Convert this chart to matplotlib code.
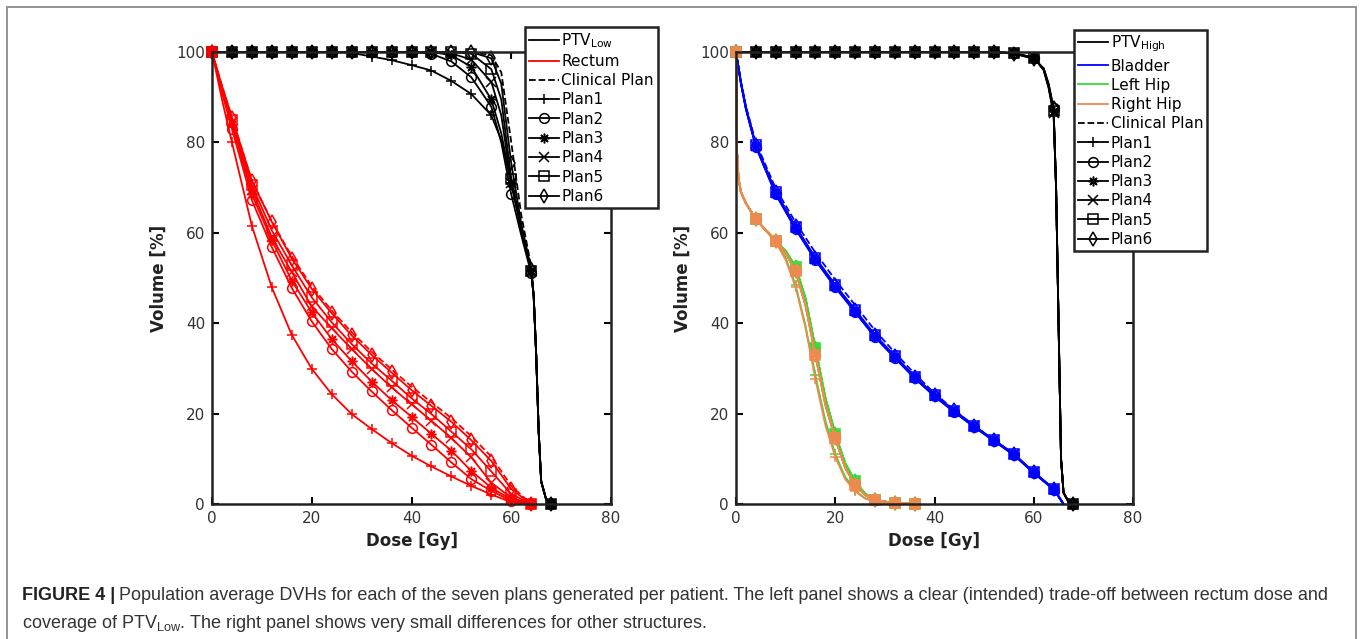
import numpy as np
import matplotlib
matplotlib.use("Agg")
import matplotlib.pyplot as plt
from matplotlib.lines import Line2D
from matplotlib.patches import Rectangle

plt.rcParams['font.family'] = ['DejaVu Sans']
plt.rcParams['mathtext.fontset'] = 'dejavusans'

# ---------------- data (left panel) ----------------
ptv_low_dose = [0, 4, 8, 12, 16, 20, 24, 28, 32, 36, 40, 44, 48, 52, 56, 58, 60, 62,
                64, 64.5, 65, 65.5, 66, 67, 68]
ptv_low_tail = [46, 33, 16, 5, 1, 0]
ptv_low_plan1 = [100, 100, 100, 100, 100, 100, 100, 99.8, 99.0, 98.2, 97.1, 95.9, 93.6,
                 90.7, 86.0, 80.5, 71.0, 61.0, 51.5] + ptv_low_tail
ptv_low_plan2 = [100] * 11 + [99.6, 97.9, 94.4, 87.9, 80.0, 68.5, 59.5, 51.0] + ptv_low_tail
ptv_low_plan3 = [100] * 12 + [99.3, 96.7, 89.5, 82.0, 71.0, 61.0, 51.5] + ptv_low_tail
ptv_low_plan4 = [100] * 12 + [99.7, 98.3, 93.4, 86.0, 71.0, 61.0, 51.5] + ptv_low_tail
ptv_low_plan5 = [100] * 13 + [99.6, 96.2, 89.5, 72.0, 61.5, 51.5] + ptv_low_tail
ptv_low_plan6 = [100] * 14 + [98.6, 93.0, 75.4, 62.0, 52.0] + ptv_low_tail
ptv_low_clin = [100] * 14 + [99.3, 95.5, 80.0, 64.0, 52.5] + ptv_low_tail

rectum_dose = [0, 2, 4, 8, 12, 16, 20, 24, 28, 32, 36, 40, 44, 48, 52, 56, 60, 64]
rectum_plan1 = [100, 89.5, 80, 61.5, 47.9, 37.4, 29.9, 24.3, 19.9, 16.6, 13.5, 10.7, 8.3, 6.1, 4.0, 2.1, 0.4, 0]
rectum_plan2 = [100, 91, 83, 67.2, 56.8, 47.8, 40.4, 34.3, 29.3, 24.9, 20.8, 16.9, 13.1, 9.2, 5.5, 2.9, 0.7, 0]
rectum_plan3 = [100, 91.5, 84, 68.5, 58.3, 49.4, 42.4, 36.5, 31.6, 27.1, 23.0, 19.3, 15.5, 11.8, 7.3, 3.6, 1.0, 0]
rectum_plan4 = [100, 92, 84.5, 69.5, 59.0, 51.3, 43.7, 38.9, 34.3, 29.9, 25.8, 22.1, 18.4, 14.6, 10.3, 4.7, 1.4, 0]
rectum_plan5 = [100, 92, 85, 70.5, 60.5, 52.8, 45.7, 40.2, 35.4, 31.1, 27.3, 23.4, 19.9, 16.0, 12.1, 7.2, 2.2, 0]
rectum_plan6 = [100, 92.5, 85.5, 71.5, 62.4, 54.3, 47.6, 42.2, 37.3, 33.0, 29.1, 25.2, 21.7, 18.2, 14.1, 9.5, 3.3, 0]
rectum_clin = [100, 92.5, 85.5, 71.5, 62.5, 54.8, 48.2, 42.8, 38.0, 33.7, 29.8, 26.0, 22.5, 19.0, 15.0, 10.5, 4.0, 0]

# ---------------- data (right panel) ----------------
ptv_high_dose = [0, 4, 8, 12, 16, 20, 24, 28, 32, 36, 40, 44, 48, 52, 56, 60, 62, 63,
                 64, 64.5, 65, 65.5, 66, 67, 68]
ptv_high_tail = [70, 40, 10, 2.5, 0.5, 0]
ptv_high_plans = [
    [100] * 14 + [99.7, 98.8, 96.0, 92.0, 86.0] + ptv_high_tail,
    [100] * 14 + [99.7, 98.6, 96.3, 92.8, 87.5] + ptv_high_tail,
    [100] * 14 + [99.7, 98.7, 96.2, 92.5, 87.0] + ptv_high_tail,
    [100] * 14 + [99.7, 98.8, 96.0, 92.2, 86.5] + ptv_high_tail,
    [100] * 14 + [99.7, 98.7, 96.2, 92.5, 87.0] + ptv_high_tail,
    [100] * 14 + [99.6, 98.5, 96.4, 93.0, 87.5] + ptv_high_tail,
]
ptv_high_clin = [100] * 14 + [99.7, 98.7, 96.2, 92.5, 87.0] + ptv_high_tail

bladder_dose = [0, 1, 2, 4, 8, 12, 16, 20, 24, 28, 32, 36, 40, 44, 48, 52, 56, 60, 64, 66]
bladder_plans = [
    [100, 93, 87.5, 79.2, 68.7, 61.0, 54.1, 48.1, 42.6, 37.0, 32.4, 27.9, 23.9, 20.4, 17.1, 14.0, 10.9, 6.9, 3.3, 0],
    [100, 93, 87.3, 79.0, 68.5, 60.8, 53.9, 47.9, 42.4, 36.9, 32.3, 27.8, 23.8, 20.3, 17.0, 13.9, 10.8, 6.8, 3.2, 0],
    [100, 93, 87.4, 79.1, 68.6, 60.9, 54.0, 48.0, 42.5, 37.0, 32.4, 27.9, 23.9, 20.4, 17.1, 14.0, 10.9, 6.9, 3.3, 0],
    [100, 93.2, 87.6, 79.3, 68.9, 61.2, 54.3, 48.3, 42.8, 37.2, 32.6, 28.0, 24.0, 20.5, 17.2, 14.1, 11.0, 7.0, 3.4, 0],
    [100, 93.2, 87.7, 79.4, 69.0, 61.3, 54.4, 48.4, 42.9, 37.3, 32.7, 28.1, 24.1, 20.6, 17.2, 14.1, 11.0, 7.0, 3.4, 0],
    [100, 93.3, 87.8, 79.5, 69.1, 61.4, 54.5, 48.5, 43.0, 37.4, 32.8, 28.2, 24.2, 20.7, 17.3, 14.2, 11.1, 7.1, 3.4, 0],
]
bladder_clin = [100, 93.5, 88.0, 80.0, 69.8, 62.3, 55.6, 49.6, 44.0, 38.4, 33.5, 28.8, 24.5, 20.8, 17.3, 14.1, 11.0, 7.0, 3.2, 0]

hip_dose = [0, 0.2, 0.5, 1, 2, 4, 8, 10, 12, 14, 16, 18, 20, 22, 24, 26, 28, 32, 36]
left_hip_plan1 = [100, 78, 72, 69, 66.5, 63, 58.0, 54.5, 48.5, 39.5, 28.5, 18.5, 11.0, 6.0, 3.0, 1.3, 0.5, 0.1, 0]
left_hip_other = [100, 78, 72, 69, 66.5, 63, 58.2, 56.0, 52.5, 45.5, 34.5, 23.5, 15.5, 9.0, 5.0, 2.3, 0.9, 0.2, 0.1]
right_hip_plan1 = [100, 78, 72, 69, 66.5, 63, 58.0, 54.0, 48.0, 39.0, 27.6, 17.5, 10.4, 5.5, 2.8, 1.2, 0.5, 0.1, 0]
right_hip_other = [100, 78, 72, 69, 66.5, 63, 58.2, 55.5, 51.5, 44.0, 33.0, 22.0, 14.5, 8.0, 4.2, 2.0, 0.8, 0.2, 0.1]

# MATLAB-like markers: +, o, asterisk, x, square, diamond
plan_markers = ['+', 'o', (8, 2, 0), 'x', 's', 'd']
plan_names = ['Plan1', 'Plan2', 'Plan3', 'Plan4', 'Plan5', 'Plan6']

RED = '#ff0000'
BLUE = '#0000ff'
GREEN = '#33dd33'
ORANGE = '#f0894f'
LW = 1.3
MS = 7


def every4(dose):
    return [i for i, d in enumerate(dose) if d % 4 == 0]


def draw(ax, dose, vol, color, marker=None, ls='-'):
    if marker is None:
        ax.plot(dose, vol, color=color, lw=LW, ls=ls, clip_on=False)
    else:
        ax.plot(dose, vol, color=color, lw=LW, ls=ls, marker=marker, ms=MS,
                mfc='none', mec=color, mew=1.1, markevery=every4(dose), clip_on=False)


def style_axes(ax):
    ax.set_xlim(0, 80)
    ax.set_ylim(0, 100)
    ax.set_xticks([0, 20, 40, 60, 80])
    ax.set_yticks([0, 20, 40, 60, 80, 100])
    ax.tick_params(direction='in', length=5, width=1.5, top=True, right=True,
                   labelsize=11, labelcolor='#333333', pad=5)
    for sp in ax.spines.values():
        sp.set_linewidth(1.8)
        sp.set_color('#222222')
    ax.set_xlabel('Dose [Gy]', fontsize=12, fontweight='bold', color='#222222', labelpad=4)
    ax.set_ylabel('Volume [%]', fontsize=12, fontweight='bold', color='#222222', labelpad=6)


def make_legend(ax, handles, labels, anchor):
    leg = ax.legend(handles, labels, loc='upper left', bbox_to_anchor=anchor,
                    borderaxespad=0, fontsize=11, handlelength=2.0, handletextpad=0.15,
                    labelspacing=0.28, borderpad=0.25, fancybox=False, framealpha=1,
                    edgecolor='#222222')
    leg.get_frame().set_linewidth(1.8)
    leg.set_zorder(10)


fig = plt.figure(figsize=(13.6, 6.39), dpi=100)
axL = fig.add_axes([212 / 1360, 1 - 504 / 639, 399 / 1360, 452 / 639])
axR = fig.add_axes([736 / 1360, 1 - 504 / 639, 397 / 1360, 452 / 639])

# left panel
ptv_low = [ptv_low_plan1, ptv_low_plan2, ptv_low_plan3, ptv_low_plan4, ptv_low_plan5, ptv_low_plan6]
rectum = [rectum_plan1, rectum_plan2, rectum_plan3, rectum_plan4, rectum_plan5, rectum_plan6]
draw(axL, ptv_low_dose, ptv_low_clin, 'k', ls='--')
for vals, m in zip(ptv_low, plan_markers):
    draw(axL, ptv_low_dose, vals, 'k', m)
draw(axL, rectum_dose, rectum_clin, RED, ls='--')
for vals, m in zip(rectum, plan_markers):
    draw(axL, rectum_dose, vals, RED, m)
style_axes(axL)

hL = [Line2D([], [], color='k', lw=LW), Line2D([], [], color=RED, lw=LW),
      Line2D([], [], color='k', lw=LW, ls='--')]
hL += [Line2D([], [], color='k', lw=LW, marker=m, ms=MS, mfc='none', mew=1.1) for m in plan_markers]
make_legend(axL, hL, ['PTV$_{\\mathrm{Low}}$', 'Rectum', 'Clinical Plan'] + plan_names,
            (0.784, 1.055))

# right panel
draw(axR, ptv_high_dose, ptv_high_clin, 'k', ls='--')
for vals, m in zip(ptv_high_plans, plan_markers):
    draw(axR, ptv_high_dose, vals, 'k', m)
draw(axR, bladder_dose, bladder_clin, BLUE, ls='--')
for vals, m in zip(bladder_plans, plan_markers):
    draw(axR, bladder_dose, vals, BLUE, m)
draw(axR, hip_dose, left_hip_other, GREEN, ls='--')
for i, m in enumerate(plan_markers):
    draw(axR, hip_dose, left_hip_plan1 if i == 0 else left_hip_other, GREEN, m)
draw(axR, hip_dose, right_hip_other, ORANGE, ls='--')
for i, m in enumerate(plan_markers):
    draw(axR, hip_dose, right_hip_plan1 if i == 0 else right_hip_other, ORANGE, m)
style_axes(axR)

hR = [Line2D([], [], color='k', lw=LW), Line2D([], [], color=BLUE, lw=LW),
      Line2D([], [], color=GREEN, lw=LW), Line2D([], [], color=ORANGE, lw=LW),
      Line2D([], [], color='k', lw=LW, ls='--')]
hR += [Line2D([], [], color='k', lw=LW, marker=m, ms=MS, mfc='none', mew=1.1) for m in plan_markers]
make_legend(axR, hR, ['PTV$_{\\mathrm{High}}$', 'Bladder', 'Left Hip', 'Right Hip', 'Clinical Plan'] + plan_names,
            (0.851, 1.049))

# outer frame and caption
fig.patches.append(Rectangle((7 / 1360, -0.1), 1349 / 1360, 1.1 - 7 / 639, transform=fig.transFigure,
                             fill=False, edgecolor='#8a8a8a', lw=1.3))

cap_font = ['Liberation Sans', 'DejaVu Sans']
cap_size = 13
y1 = 1 - 596 / 639
y2 = 1 - 623 / 639
x0 = 22 / 1360
t = fig.text(x0, y1, 'FIGURE 4 |', family=cap_font, fontsize=cap_size, fontweight='bold',
             color='#222222', va='center')
fig.canvas.draw()
bb = t.get_window_extent(fig.canvas.get_renderer())
fig.text(bb.x1 / 1360 + 4 / 1360, y1,
         'Population average DVHs for each of the seven plans generated per patient. '
         'The left panel shows a clear (intended) trade-off between rectum dose and',
         family=cap_font, fontsize=cap_size, color='#333333', va='center')
plt.rcParams['mathtext.fontset'] = 'custom'
plt.rcParams['mathtext.rm'] = 'Liberation Sans'
fig.text(x0, y2,
         'coverage of PTV$_{\\mathregular{Low}}$. The right panel shows very small differences for other structures.',
         family=cap_font, fontsize=cap_size, color='#333333', va='center')

fig.savefig('out.png', dpi=100)
